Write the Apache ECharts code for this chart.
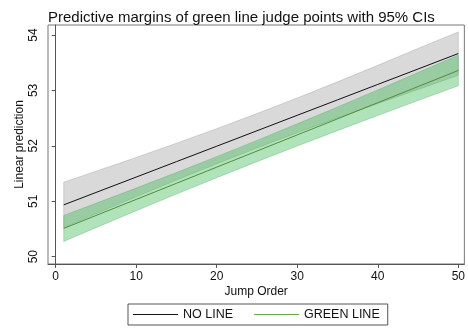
<!DOCTYPE html>
<html>
<head>
<meta charset="utf-8">
<script src="https://cdn.jsdelivr.net/npm/echarts@6/dist/echarts.min.js"></script>
<style>
html,body{margin:0;padding:0;background:#fff;}
#c{width:468px;height:329px;}
</style>
</head>
<body>
<div id="c"></div>
<script>
const jumpOrder = [1, 5, 10, 15, 20, 25, 30, 35, 40, 45, 50];
const noLineFit = [50.935, 51.158, 51.436, 51.715, 51.993, 52.272, 52.551, 52.829, 53.108, 53.386, 53.665];
const noLineLo  = [50.525, 50.775, 51.082, 51.383, 51.676, 51.962, 52.238, 52.504, 52.764, 53.015, 53.275];
const noLineHi  = [51.345, 51.541, 51.790, 52.047, 52.310, 52.582, 52.864, 53.154, 53.452, 53.757, 54.055];
const greenFit  = [50.510, 50.743, 51.033, 51.324, 51.615, 51.906, 52.197, 52.487, 52.778, 53.069, 53.360];
const greenLo   = [50.275, 50.523, 50.828, 51.130, 51.425, 51.714, 51.997, 52.274, 52.547, 52.817, 53.084];
const greenHi   = [50.745, 50.963, 51.238, 51.518, 51.805, 52.098, 52.397, 52.700, 53.009, 53.321, 53.636];
const xTicks = [0, 10, 20, 30, 40, 50];
const yTicks = [50, 51, 52, 53, 54];

const pairs = (ys) => jumpOrder.map((x, i) => [x, ys[i]]);
const bandRows = (lo, hi) => jumpOrder.map((x, i) => [x, lo[i], hi[i]]);

function bandSeries(name, lo, hi, fill, edge) {
  return {
    name: name, type: 'custom', silent: true,
    data: bandRows(lo, hi),
    encode: {x: 0, y: [1, 2]},
    renderItem: function (params, api) {
      if (params.dataIndex !== 0) return null;
      const top = jumpOrder.map((x, i) => api.coord([x, hi[i]]));
      const bot = jumpOrder.map((x, i) => api.coord([x, lo[i]])).reverse();
      return {
        type: 'polygon',
        shape: {points: top.concat(bot)},
        style: {fill: fill, stroke: edge, lineWidth: 0.6}
      };
    }
  };
}

const font = 'Liberation Sans, Arial, Helvetica, sans-serif';
const chart = echarts.init(document.getElementById('c'), null, {renderer: 'canvas'});
chart.setOption({
  animation: false,
  backgroundColor: '#fff',
  title: {
    text: 'Predictive margins of green line judge points with 95% CIs',
    left: 43, top: 5,
    textStyle: {fontFamily: font, fontSize: 15, fontWeight: 'normal', color: '#111'}
  },
  grid: {left: 48, right: 0, top: 25, bottom: 65, show: true, borderColor: '#777', borderWidth: 1, backgroundColor: 'transparent'},
  xAxis: {
    type: 'value', min: -0.95, max: 50.75,
    name: 'Jump Order', nameLocation: 'middle', nameGap: 22, nameMoveOverlap: false,
    nameTextStyle: {fontFamily: font, fontSize: 12, color: '#111'},
    axisLine: {show: true, lineStyle: {color: '#555', width: 1}},
    axisTick: {show: true, length: 4, lineStyle: {color: '#555'}, customValues: xTicks},
    axisLabel: {fontFamily: font, fontSize: 12, color: '#111', margin: 7, customValues: xTicks},
    splitLine: {show: false}
  },
  yAxis: {
    type: 'value', min: 49.868, max: 54.18,
    name: 'Linear prediction', nameLocation: 'middle', nameGap: 22, nameMoveOverlap: false,
    nameTextStyle: {fontFamily: font, fontSize: 12, color: '#111'},
    axisLine: {show: true, lineStyle: {color: '#555', width: 1}},
    axisTick: {show: true, length: 4, lineStyle: {color: '#555'}, customValues: yTicks},
    axisLabel: {fontFamily: font, fontSize: 12, color: '#111', rotate: 90, margin: 8, customValues: yTicks},
    splitLine: {show: false}
  },
  legend: {
    left: 128, top: 304,
    padding: [4, 8, 4, 5],
    borderColor: '#555', borderWidth: 1,
    icon: 'rect',
    itemWidth: 45, itemHeight: 1, itemGap: 21,
    textStyle: {fontFamily: font, fontSize: 12.5, color: '#111'},
    data: ['NO LINE', 'GREEN LINE']
  },
  series: [
    bandSeries('nband', noLineLo, noLineHi, 'rgba(150,150,150,0.36)', 'rgba(120,120,120,0.45)'),
    bandSeries('gband', greenLo, greenHi, 'rgba(60,185,85,0.40)', 'rgba(50,150,70,0.45)'),
    {name: 'NO LINE', type: 'line', data: pairs(noLineFit), symbol: 'none', color: '#111',
     lineStyle: {color: '#111', width: 1}},
    {name: 'GREEN LINE', type: 'line', data: pairs(greenFit), symbol: 'none', color: '#6aa84f',
     lineStyle: {color: '#4e8e36', width: 1}}
  ]
});
</script>
</body>
</html>
